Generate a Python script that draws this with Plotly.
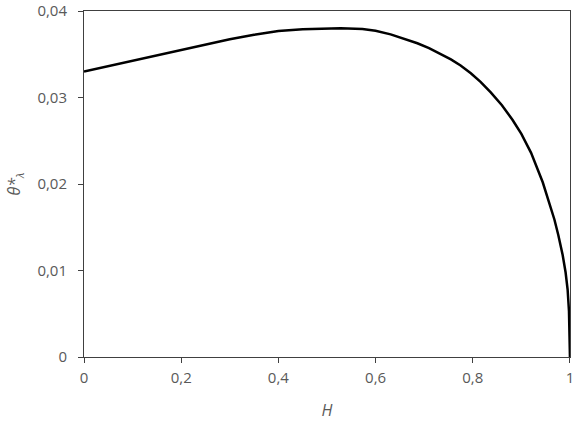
import plotly.graph_objects as go

H = [0.0, 0.05, 0.1, 0.15, 0.2, 0.25, 0.3, 0.35, 0.4, 0.45, 0.5, 0.528, 0.573,
     0.6, 0.631, 0.66, 0.686, 0.71, 0.734, 0.755, 0.775, 0.796, 0.816, 0.837,
     0.86, 0.882, 0.90, 0.92, 0.944, 0.961, 0.968, 0.976, 0.985, 0.991, 0.9952,
     0.998, 0.9995, 1.0]
theta = [0.0330, 0.03363, 0.03425, 0.03488, 0.0355, 0.03615, 0.03673, 0.03725,
         0.0377, 0.0379, 0.0380, 0.0380, 0.03792, 0.03772, 0.0373, 0.0368, 0.03627,
         0.0357, 0.03505, 0.0344, 0.0337, 0.0328, 0.0318, 0.0306, 0.0291,
         0.0274, 0.0258, 0.0236, 0.0202, 0.0173, 0.0159, 0.0141, 0.0118, 0.0098,
         0.0078, 0.0053, 0.0028, 0.0]

x_ticks = [0, 0.2, 0.4, 0.6, 0.8, 1]
x_labels = ["0", "0,2", "0,4", "0,6", "0,8", "1"]
y_ticks = [0, 0.01, 0.02, 0.03, 0.04]
y_labels = ["0", "0,01", "0,02", "0,03", "0,04"]

fig = go.Figure()
fig.add_trace(go.Scatter(x=H, y=theta, mode="lines",
                         line=dict(color="black", width=2.5),
                         showlegend=False, cliponaxis=False))

font_fam = "Open Sans, Liberation Sans, sans-serif"
fig.update_layout(
    width=577, height=427,
    margin=dict(l=84, r=7, t=11, b=70),
    paper_bgcolor="white", plot_bgcolor="white",
    font=dict(family=font_fam, color="#595959", size=15),
    xaxis=dict(range=[0, 1.0001], tickvals=x_ticks, ticktext=x_labels, automargin=False,
               showgrid=False, zeroline=False, showline=True, linecolor="#404040",
               linewidth=1, mirror=True, ticks="outside", ticklen=5, tickcolor="#404040",
               ticklabelstandoff=2,
               title=dict(text="<i>H</i>", font=dict(size=16, color="#595959"), standoff=18)),
    yaxis=dict(range=[0, 0.04], tickvals=y_ticks, ticktext=y_labels, automargin=False,
               showgrid=False, zeroline=False, showline=True, linecolor="#404040",
               linewidth=1, mirror=True, ticks="outside", ticklen=5, tickcolor="#404040",
               ticklabelstandoff=8,
               title=dict(text="<i>θ*<sub>λ</sub></i>", font=dict(size=16, color="#595959"), standoff=12)),
)

fig.write_html("out.html", config={"displayModeBar": False},
               post_script="document.body.style.margin='0px';")
